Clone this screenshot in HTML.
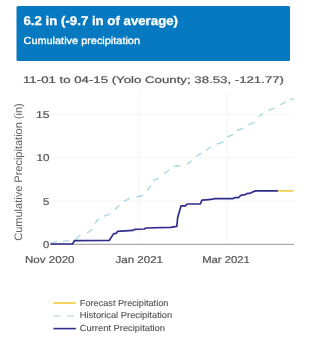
<!DOCTYPE html>
<html><head><meta charset="utf-8"><style>
html,body{margin:0;padding:0;background:#fff;width:306px;height:350px;overflow:hidden}
svg{display:block}
text{text-rendering:geometricPrecision}
svg{will-change:transform;filter:blur(0.35px)}
text{font-family:"Liberation Sans",sans-serif}
</style></head><body>
<svg width="306" height="350" viewBox="0 0 306 350">
<rect x="16.5" y="6" width="273.5" height="55" rx="1.5" fill="#0679c1"/>
<g fill="#fff" stroke="#fff" stroke-width="0.15">
<text x="23.5" y="24.7" font-size="12.6" textLength="154.5" lengthAdjust="spacingAndGlyphs" font-weight="bold" stroke-width="0.3">6.2 in (-9.7 in of average)</text>
<text x="23.5" y="44.0" font-size="10.2" textLength="116.5" lengthAdjust="spacingAndGlyphs" stroke-width="0.3">Cumulative precipitation</text>
</g>
<g fill="#555555" stroke="#555555" stroke-width="0.22">
<text x="23" y="83" font-size="9.6" textLength="261" lengthAdjust="spacingAndGlyphs">11-01 to 04-15 (Yolo County; 38.53, -121.77)</text>
</g>
<g stroke="#f5f5f5" stroke-width="1">
<line x1="51" y1="114.2" x2="294.5" y2="114.2"/>
<line x1="51" y1="157.7" x2="294.5" y2="157.7"/>
<line x1="51" y1="200.9" x2="294.5" y2="200.9"/>
<line x1="139.4" y1="92" x2="139.4" y2="244"/>
<line x1="227" y1="92" x2="227" y2="244"/>
</g>
<line x1="50" y1="244.4" x2="294" y2="244.4" stroke="#aaaaaa" stroke-width="1.2"/>
<g fill="#555555" stroke="#555555" stroke-width="0.22">
<text x="36" y="117.6" font-size="10" textLength="13.5" lengthAdjust="spacingAndGlyphs">15</text>
<text x="36.6" y="161.2" font-size="10" textLength="13" lengthAdjust="spacingAndGlyphs">10</text>
<text x="43" y="204.8" font-size="10" textLength="6.3" lengthAdjust="spacingAndGlyphs">5</text>
<text x="43" y="248.3" font-size="10" textLength="6.3" lengthAdjust="spacingAndGlyphs">0</text>
<text x="25" y="263.2" font-size="10" textLength="49.5" lengthAdjust="spacingAndGlyphs">Nov 2020</text>
<text x="115.5" y="263.2" font-size="10" textLength="47.5" lengthAdjust="spacingAndGlyphs">Jan 2021</text>
<text x="202.2" y="263.2" font-size="10" textLength="47.5" lengthAdjust="spacingAndGlyphs">Mar 2021</text>
</g>
<text transform="translate(22.4,172) rotate(-90)" font-size="10.8" fill="#5e5e5e" text-anchor="middle" textLength="137.5" lengthAdjust="spacingAndGlyphs">Cumulative Precipitation (in)</text>
<path d="M50.6,242.6L57.2,241.7 M63,241.3L68.9,240.4 M75.3,239.6L80.5,235.1 M87,233.1L92.3,229.2 M94.9,223.3L98.8,218.7 M104,216.1L110.2,213.8 M114.8,209.8L119.4,205.3 M124,201.3L129.8,198.1 M136.4,197L142.9,195.5 M147.2,190.7L151.1,185.5 M153,180.3L158.9,178.3 M164.1,173.7L169.4,169.8 M174,166.5L180.5,165.5 M187,164.2L191.6,160.9 M196.2,156.3L201.4,153.1 M206.2,150.3L211,146.7 M216.8,144.2L223.3,142 M227.2,137L233.1,134.6 M237,130.5L242.9,128.5 M248.2,124.9L254.6,122.2 M258.3,116.7L262.9,113.6 M268.4,110.3L274.8,108.1 M280.3,104.8L285.4,102.1 M290.3,99.3L294,99" fill="none" stroke="#acd9de" stroke-width="1.35"/>
<polyline points="50.5,244 72.5,244 74.5,240.7 109.2,240.5 113.7,233.6 116.3,233.3 117.6,231.3 132.7,230.4 134.6,229.4 144.3,229 146,228 170.8,227.3 176.8,226.3 177.7,217.4 179.7,210.5 181.1,205.8 185.4,205.8 187.1,204 200.3,203.8 202,200.2 206.2,199.8 212.6,199.1 214.7,198.7 232.8,198.7 234.9,197.6 238.4,197.6 240.9,195.3 244.8,194.7 246.8,193.7 250.7,193.1 253.6,191.6 255.6,190.9 278.2,190.9" fill="none" stroke="#312d8e" stroke-width="1.7" stroke-linejoin="round"/>
<line x1="278.2" y1="190.9" x2="293.3" y2="190.9" stroke="#f0cf4c" stroke-width="1.7"/>
<line x1="53.5" y1="303" x2="75.8" y2="303" stroke="#f0cf4c" stroke-width="1.8"/>
<line x1="53.2" y1="315.8" x2="74.2" y2="315.8" stroke="#bddde2" stroke-width="1.3" stroke-dasharray="7,6.8"/>
<line x1="53.5" y1="328.6" x2="75.8" y2="328.6" stroke="#312d8e" stroke-width="1.6"/>
<g fill="#505050" stroke="#505050" stroke-width="0.1">
<text x="79.8" y="305.9" font-size="8.8" textLength="88.6" lengthAdjust="spacingAndGlyphs">Forecast Precipitation</text>
<text x="79.8" y="318.3" font-size="8.8" textLength="92.4" lengthAdjust="spacingAndGlyphs">Historical Precipitation</text>
<text x="79.8" y="331.2" font-size="8.8" textLength="85.2" lengthAdjust="spacingAndGlyphs">Current Precipitation</text>
</g>
</svg>
</body></html>
